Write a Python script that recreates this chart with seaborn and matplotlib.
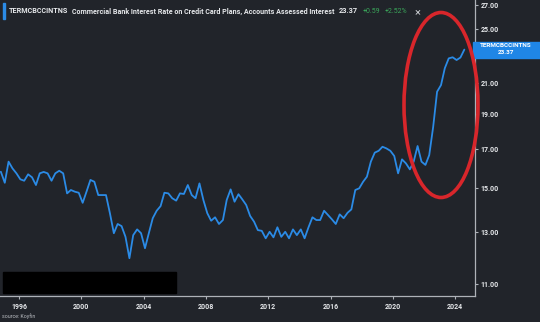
import numpy as np
import pandas as pd
import matplotlib
matplotlib.use("Agg")
import matplotlib.pyplot as plt
import seaborn as sns
from matplotlib.patches import Rectangle, Ellipse
from matplotlib.ticker import FixedLocator, NullLocator, FixedFormatter

# ---------------- data ----------------
series_code = "TERMCBCCINTNS"
series_title = "Commercial Bank Interest Rate on Credit Card Plans, Accounts Assessed Interest"
last_value = "23.37"
change_abs = "+0.59"
change_pct = "+2.52%"
source_note = "source: Koyfin"

start_date = "1994-11-01"   # quarterly observations
rates = [
    15.78, 15.23, 16.30, 15.95, 15.70, 15.40, 15.33, 15.65, 15.50, 15.12,
    15.70, 15.77, 15.70, 15.33, 15.70, 15.83, 15.70, 14.72, 14.88, 14.80,
    14.75, 14.28, 14.80, 15.37, 15.28, 14.64, 14.64, 14.64, 13.81, 12.95,
    13.34, 13.25, 12.80, 11.95, 12.87, 13.11, 12.95, 12.34, 12.95, 13.59,
    13.92, 14.13, 14.75, 14.72, 14.49, 14.38, 14.72, 14.69, 15.12, 14.64,
    14.49, 15.20, 14.41, 13.81, 13.48, 13.63, 13.34, 13.51, 14.41, 14.91,
    14.33, 14.68, 14.44, 14.18, 13.69, 13.44, 13.08, 13.05, 12.74, 13.01,
    12.78, 13.20, 12.80, 13.01, 12.74, 13.11, 12.87, 13.11, 12.74, 13.20,
    13.63, 13.51, 13.51, 13.92, 13.73, 13.54, 13.34, 13.76, 13.59, 13.83,
    13.98, 14.88, 14.96, 15.28, 15.53, 16.30, 16.78, 16.88, 17.10, 17.01,
    16.88, 16.60, 15.70, 16.42, 16.21, 15.90, 16.30, 17.14, 16.30, 16.13,
    16.65, 18.22, 20.41, 20.85, 22.01, 22.72, 22.80, 22.60, 22.78, 23.37,
]
year_ticks = [1996, 2000, 2004, 2008, 2012, 2016, 2020, 2024]
y_ticks = [11, 13, 15, 17, 19, 21, 23, 25, 27]
y_tick_labels = ["11.00", "13.00", "15.00", "17.00", "19.00", "21.00", "23.00", "25.00", "27.00"]

dates = pd.date_range(start_date, periods=len(rates), freq="3MS")
df = pd.DataFrame({"date": dates, "rate": rates})

# ---------------- style ----------------
BG = "#21242a"
LINE = "#2b8be6"
AXIS = "#aeb2b8"
TXT = "#e6e8eb"
GREEN = "#3aa55a"

sns.set_style("dark", {"axes.facecolor": BG, "figure.facecolor": BG})
plt.rcParams["font.family"] = ["Roboto", "DejaVu Sans"]

W, H = 540, 322
fig = plt.figure(figsize=(W / 100, H / 100), dpi=100)
fig.patch.set_facecolor(BG)
ax = fig.add_axes([0, 1 - 295.5 / H, 475 / W, 295.5 / H])
ax.set_facecolor(BG)

sns.lineplot(data=df, x="date", y="rate", ax=ax, color=LINE, linewidth=1.3)

ax.set_yscale("log")
ax.set_ylim(10.60, 27.41)
ax.set_xlim(pd.Timestamp("1994-10-12"), pd.Timestamp("2025-04-08"))

ax.yaxis.set_major_locator(FixedLocator(y_ticks))
ax.yaxis.set_major_formatter(FixedFormatter(y_tick_labels))
ax.yaxis.set_minor_locator(NullLocator())
ax.yaxis.tick_right()
ax.set_xticks([pd.Timestamp(f"{y}-01-01") for y in year_ticks])
ax.set_xticklabels([str(y) for y in year_ticks])
ax.set_xlabel("")
ax.set_ylabel("")
ax.grid(False)

for s in ["left", "top"]:
    ax.spines[s].set_visible(False)
for s in ["bottom", "right"]:
    ax.spines[s].set_visible(True)
    ax.spines[s].set_color(AXIS)
    ax.spines[s].set_linewidth(0.9)

ax.tick_params(axis="y", which="major", right=True, left=False, length=2, width=0.8,
               color=AXIS, labelcolor=TXT, labelsize=5, pad=2)
ax.tick_params(axis="x", which="major", bottom=True, length=2.5, width=0.8,
               color=AXIS, labelcolor=TXT, labelsize=5, pad=3)
for lab in ax.get_xticklabels() + ax.get_yticklabels():
    lab.set_fontweight("bold")

# ---------------- header ----------------
def fy(py):
    return 1 - py / H

renderer = fig.canvas.get_renderer()
fig.patches.append(Rectangle((3 / W, fy(19)), 1.6 / W, 15.5 / H, transform=fig.transFigure,
                             color=LINE, zorder=5))
fig.text(8.5 / W, fy(11.4), series_code, color=TXT, fontsize=5.2, fontweight="bold", va="center")
title = fig.text(72 / W, fy(11.4), series_title, color=TXT, fontsize=5.2, fontweight="bold",
                 va="center")
# pick the font size whose rendered width best matches the reference (~262 px)
best = None
for fs in np.arange(4.8, 5.8, 0.05):
    title.set_fontsize(fs)
    wpx = title.get_window_extent(renderer).width
    if best is None or abs(wpx - 262) < best[1]:
        best = (fs, abs(wpx - 262))
title.set_fontsize(best[0])

x_end = title.get_window_extent(renderer).x1
items = [(last_value, TXT, 5.3, "bold", 4), (change_abs, GREEN, 5, "normal", 5),
         (change_pct, GREEN, 5, "normal", 5)]
for txt, col, fs, fw, gap in items:
    t = fig.text((x_end + gap) / W, fy(11.4), txt, color=col, fontsize=fs, fontweight=fw,
                 va="center")
    x_end = t.get_window_extent(renderer).x1
fig.text((x_end + 7) / W, fy(12), "\u00d7", color="#c9ccd0", fontsize=8, va="center")

# value tag on axis
fig.patches.append(Rectangle((473 / W, fy(57.5)), 67 / W, 16 / H, transform=fig.transFigure,
                             color="#1f86e6", zorder=6))
fig.text(506 / W, fy(45.5), series_code, color="white", fontsize=4.6, fontweight="bold",
         ha="center", va="center", zorder=7)
fig.text(506 / W, fy(52.8), last_value, color="white", fontsize=4.6, fontweight="bold",
         ha="center", va="center", zorder=7)

# redaction box and source note
fig.patches.append(Rectangle((3 / W, fy(292.7)), 173 / W, 20.4 / H, transform=fig.transFigure,
                             color="black", zorder=8))
fig.text(2 / W, fy(316), source_note, color="#b8bbc0", fontsize=3.8, va="center")

# red hand-drawn ellipse annotation
fig.patches.append(Ellipse((441 / W, fy(105)), 74 / W, 185 / H, transform=fig.transFigure,
                           fill=False, edgecolor="#d8262b", linewidth=2.6, zorder=9))

fig.savefig("out.png", dpi=100, facecolor=BG)
